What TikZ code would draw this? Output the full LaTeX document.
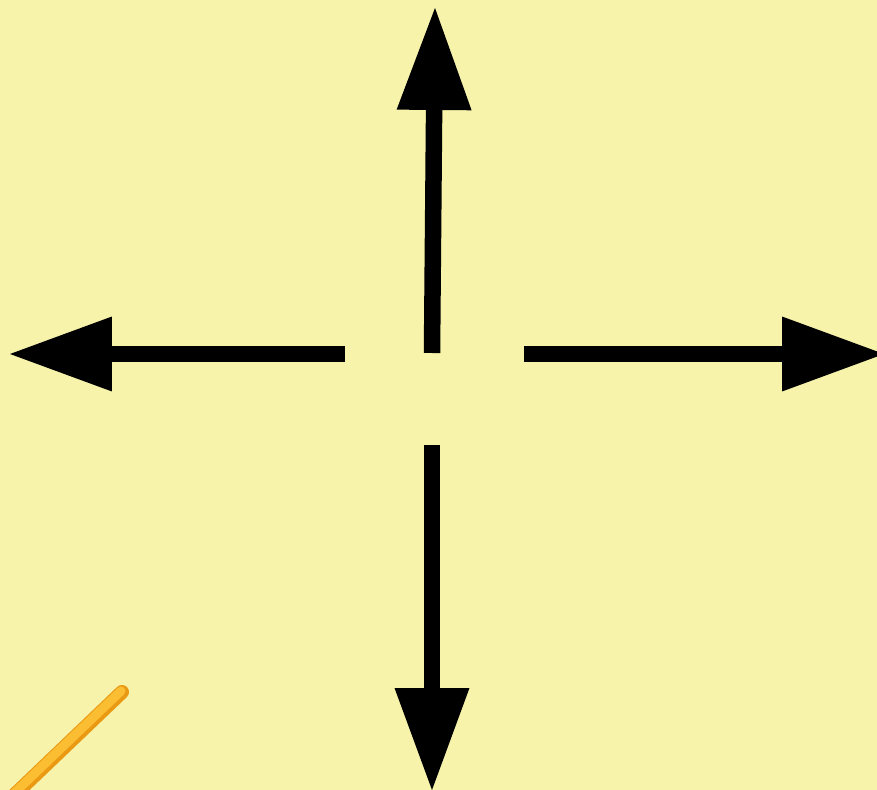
\documentclass[tikz,border=0pt]{standalone}
\usetikzlibrary{arrows.meta}
\definecolor{padbg}{HTML}{F7F3AA}
\definecolor{pencilfill}{HTML}{FBBE33}
\definecolor{pencilrim}{HTML}{EA9A12}
\tikzset{
  dirarrow/.style={line width=0.33cm, black,
    -{Triangle[length=2.04cm, width=1.5cm, line width=0pt]}},
}
\begin{document}
\begin{tikzpicture}[x=0.02cm, y=-0.02cm]
				% 1. 背景
				\fill[padbg] (0,0) rectangle (877,790);
				\useasboundingbox (0,0) rectangle (877,790);
				
				% 2. 四个方向的端点
				\coordinate (upstart) at (432,353);
				\coordinate (uptip) at (435,8);
				\coordinate (leftstart) at (345,354);
				\coordinate (lefttip) at (10,354);
				\coordinate (rightstart) at (524,354);
				\coordinate (righttip) at (884,354);
				\coordinate (downstart) at (432,445);
				\coordinate (downtip) at (432,790);
				
				% 3. 箭头
				\begin{scope}
					\clip (0,0) rectangle (877,790);
					\draw[dirarrow] (upstart) -- (uptip);
					\draw[dirarrow] (leftstart) -- (lefttip);
					\draw[dirarrow] (rightstart) -- (righttip);
					\draw[dirarrow] (downstart) -- (downtip);
				\end{scope}
				
				% 4. 左下角的铅笔笔画
				\begin{scope}
					\clip (0,0) rectangle (877,790);
					\coordinate (pencilend) at (122,692);
					\coordinate (pencilout) at (-14,822);
					\draw[pencilrim, line width=0.28cm, line cap=round] (pencilend) -- (pencilout);
					\draw[pencilfill, line width=0.18cm, line cap=round] ([shift={(-1,-1)}]pencilend) -- ([shift={(-1,-1)}]pencilout);
				\end{scope}
			\end{tikzpicture}
\end{document}
